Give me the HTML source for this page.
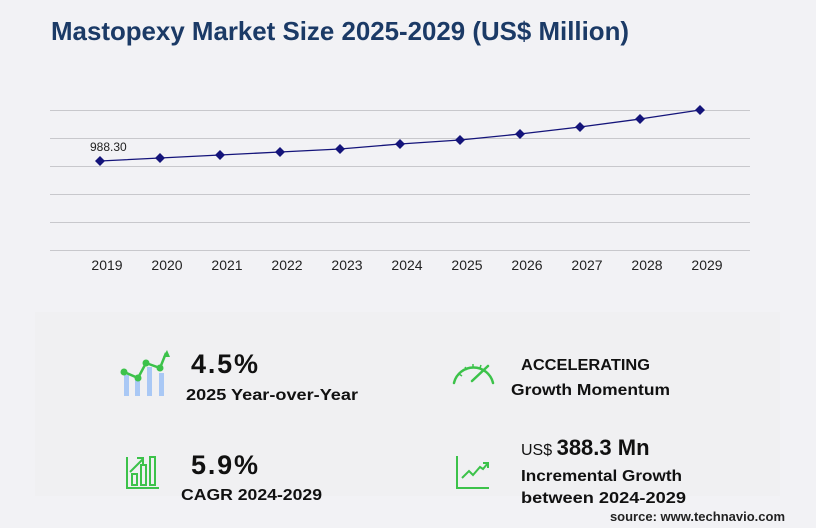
<!DOCTYPE html>
<html><head><meta charset="utf-8"><style>
body{margin:0;background:#f2f2f5;}
svg{display:block;font-family:"Liberation Sans",sans-serif;}
</style></head><body>
<svg width="816" height="528" viewBox="0 0 816 528" xmlns="http://www.w3.org/2000/svg">
<rect width="816" height="528" fill="#f2f2f5"/>
<text x="51" y="40" font-size="26" font-weight="bold" fill="#1b3a66" textLength="578" lengthAdjust="spacingAndGlyphs">Mastopexy Market Size 2025-2029 (US$ Million)</text>
<g stroke="#c8c8cc" stroke-width="1">
<line x1="50" x2="750" y1="110.5" y2="110.5"/><line x1="50" x2="750" y1="138.5" y2="138.5"/>
<line x1="50" x2="750" y1="166.5" y2="166.5"/><line x1="50" x2="750" y1="194.5" y2="194.5"/>
<line x1="50" x2="750" y1="222.5" y2="222.5"/><line x1="50" x2="750" y1="250.5" y2="250.5"/>
</g>
<polyline fill="none" stroke="#14147a" stroke-width="1.3" points="100,161 160,158 220,155 280,152 340,149 400,144 460,140 520,134 580,127 640,119 700,110"/>
<g fill="#14147a">
<path d="M100 156l5 5-5 5-5-5z"/><path d="M160 153l5 5-5 5-5-5z"/><path d="M220 150l5 5-5 5-5-5z"/>
<path d="M280 147l5 5-5 5-5-5z"/><path d="M340 144l5 5-5 5-5-5z"/><path d="M400 139l5 5-5 5-5-5z"/>
<path d="M460 135l5 5-5 5-5-5z"/><path d="M520 129l5 5-5 5-5-5z"/><path d="M580 122l5 5-5 5-5-5z"/>
<path d="M640 114l5 5-5 5-5-5z"/><path d="M700 105l5 5-5 5-5-5z"/>
</g>
<text x="90" y="151" font-size="12" fill="#222">988.30</text>
<g font-size="14" fill="#222" text-anchor="middle">
<text x="107" y="270">2019</text><text x="167" y="270">2020</text><text x="227" y="270">2021</text>
<text x="287" y="270">2022</text><text x="347" y="270">2023</text><text x="407" y="270">2024</text>
<text x="467" y="270">2025</text><text x="527" y="270">2026</text><text x="587" y="270">2027</text>
<text x="647" y="270">2028</text><text x="707" y="270">2029</text>
</g>
<rect x="35" y="312" width="745" height="184" fill="#f0f0f2"/>
<g fill="#a9c8f5"><rect x="124" y="375" width="5" height="21"/><rect x="135" y="380" width="5" height="16"/><rect x="147" y="367" width="5" height="29"/><rect x="159" y="373" width="5" height="23"/></g>
<polyline fill="none" stroke="#3cc24a" stroke-width="2.5" points="124,372 138,378 146,363 160,368 166,353"/>
<g fill="#3cc24a"><circle cx="124" cy="372" r="3.5"/><circle cx="138" cy="378" r="3.5"/><circle cx="146" cy="363" r="3.5"/><circle cx="160" cy="368" r="3.5"/><path d="M167 350l3 7h-7z"/></g>
<text x="191" y="373" font-size="27" font-weight="bold" fill="#111" textLength="67">4.5%</text>
<text x="186" y="400" font-size="16" font-weight="bold" fill="#111" textLength="172" lengthAdjust="spacingAndGlyphs">2025 Year-over-Year</text>
<g fill="none" stroke="#3cc24a" stroke-width="2">
<polyline points="127,457 127,488 159,488"/><rect x="132" y="474" width="5" height="11"/><rect x="141" y="465" width="5" height="20"/><rect x="150" y="457" width="5" height="28"/>
<polyline points="130,472 143,459"/><polyline points="137,458 143,458 143,464"/></g>
<text x="191" y="474" font-size="27" font-weight="bold" fill="#111" textLength="67">5.9%</text>
<text x="181" y="500" font-size="16" font-weight="bold" fill="#111" textLength="141" lengthAdjust="spacingAndGlyphs">CAGR 2024-2029</text>
<g fill="none" stroke="#3cc24a" stroke-width="2.5" stroke-linecap="round">
<path d="M454 383 A20 20 0 0 1 493 383"/><line x1="472" y1="381" x2="488" y2="366"/>
</g>
<g stroke="#3cc24a" stroke-width="1.5"><line x1="459" y1="374" x2="462" y2="376"/><line x1="465" y1="367" x2="467" y2="370"/><line x1="473" y1="364" x2="473" y2="367"/><line x1="481" y1="365" x2="480" y2="368"/></g>
<text x="521" y="370" font-size="16" font-weight="bold" fill="#111" textLength="129" lengthAdjust="spacingAndGlyphs">ACCELERATING</text>
<text x="511" y="395" font-size="16" font-weight="bold" fill="#111" textLength="159" lengthAdjust="spacingAndGlyphs">Growth Momentum</text>
<g fill="none" stroke="#3cc24a" stroke-width="2"><polyline points="457,456 457,488 489,488"/><polyline points="462,478 469,471 473,475 480,467 483,469 488,463"/><polyline points="483,463 488,463 488,468"/></g>
<text x="521" y="455" font-size="16" fill="#111">US$ <tspan font-size="22" font-weight="bold">388.3 Mn</tspan></text>
<text x="521" y="481" font-size="16" font-weight="bold" fill="#111" textLength="161" lengthAdjust="spacingAndGlyphs">Incremental Growth</text>
<text x="521" y="503" font-size="16" font-weight="bold" fill="#111" textLength="165" lengthAdjust="spacingAndGlyphs">between 2024-2029</text>
<text x="785" y="521" font-size="13" font-weight="bold" fill="#222" text-anchor="end">source: www.technavio.com</text>
</svg>
</body></html>
